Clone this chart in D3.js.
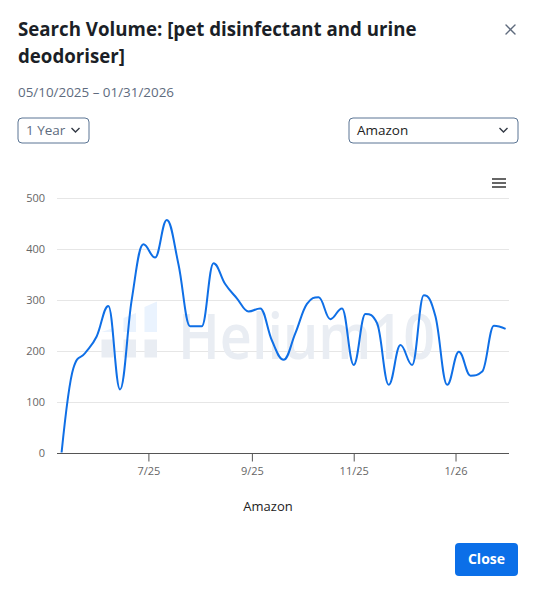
<!DOCTYPE html>
<html><head><meta charset="utf-8">
<script src="https://cdn.jsdelivr.net/npm/d3@7"></script>
<style>
body{margin:0;background:#fff;}
svg{display:block;font-family:'Open Sans',sans-serif;}
</style>
</head><body>
<svg id="c" width="537" height="595"></svg>
<script>
// ---------- data ----------
const titleLines = ["Search Volume: [pet disinfectant and urine", "deodoriser]"];
const dateRangeLabel = "05/10/2025 \u2013 01/31/2026";
const periodLabel = "1 Year";
const marketLabel = "Amazon";
const seriesName = "Amazon";
const closeLabel = "Close";
const dates = ["2025-05-10","2025-05-17","2025-05-24","2025-05-31","2025-06-07","2025-06-14","2025-06-21","2025-06-28",
  "2025-07-05","2025-07-12","2025-07-19","2025-07-26","2025-08-02","2025-08-09","2025-08-16","2025-08-23","2025-08-30",
  "2025-09-06","2025-09-13","2025-09-20","2025-09-27","2025-10-04","2025-10-11","2025-10-18","2025-10-25",
  "2025-11-01","2025-11-08","2025-11-15","2025-11-22","2025-11-29","2025-12-06","2025-12-13","2025-12-20","2025-12-27",
  "2026-01-03","2026-01-10","2026-01-17","2026-01-24","2026-01-31"];
const volumes = [0,165,195,228,288,124,300,409,383,457,370,248,248,372,331,303,277,283,220,182,234,292,305,262,283,172,272,254,133,211,172,309,267,133,198,151,159,249,243];
const yTicks = [0,100,200,300,400,500];
const xTickDates = ["2025-07-01","2025-09-01","2025-11-01","2026-01-01"];
const xTickLabels = ["7/25","9/25","11/25","1/26"];
const watermarkText = "Helium10";

// ---------- drawing ----------
const svg = d3.select("#c");
const parse = d3.utcParse("%Y-%m-%d");
const data = dates.map((d,i)=>({date:parse(d), v:volumes[i]}));

function fitText(sel, target){
  const w = sel.node().getComputedTextLength();
  const fs = parseFloat(sel.attr("font-size"));
  sel.attr("font-size", (fs*target/w).toFixed(2));
}

// Title
const t1 = svg.append("text").attr("x",18).attr("y",36).attr("font-size",20).attr("font-weight",700)
  .attr("fill","#1b1f27").text(titleLines[0]);
fitText(t1, 399);
const fsT = t1.attr("font-size");
svg.append("text").attr("x",18).attr("y",63).attr("font-size",fsT).attr("font-weight",700)
  .attr("fill","#1b1f27").text(titleLines[1]);

// close x
svg.append("g").attr("stroke","#5f6b7d").attr("stroke-width",1.4).attr("stroke-linecap","round")
  .selectAll("line").data([[506,25,515,34],[515,25,506,34]]).join("line")
  .attr("x1",d=>d[0]).attr("y1",d=>d[1]).attr("x2",d=>d[2]).attr("y2",d=>d[3]);

// date range
const dt = svg.append("text").attr("x",18).attr("y",97).attr("font-size",14).attr("fill","#5e6b7e").text(dateRangeLabel);
fitText(dt, 156);

// dropdowns
function dropdown(x,y,w,h,label,color,chevX){
  svg.append("rect").attr("x",x+0.5).attr("y",y+0.5).attr("width",w).attr("height",h).attr("rx",4)
    .attr("fill","#fff").attr("stroke","#5b7594").attr("stroke-width",1);
  svg.append("text").attr("x",x+8.5).attr("y",y+17).attr("font-size",13.5).attr("fill",color).text(label);
  svg.append("path").attr("d",`M${chevX-4},${y+10.5} L${chevX},${y+14.5} L${chevX+4},${y+10.5}`)
    .attr("fill","none").attr("stroke","#333a45").attr("stroke-width",1.4);
}
dropdown(17.5,117.5,71,25,periodLabel,"#5e6b7e",75.5);
dropdown(348.5,117.5,169,25,marketLabel,"#222",503.5);

// scales
const x = d3.scaleUtc().domain([data[0].date, data[data.length-1].date]).range([61.6,505.6]);
const y = d3.scaleLinear().domain([0,500]).range([452.5,198]);
const plotL = 57, plotR = 509;

// gridlines
svg.append("g").selectAll("line").data(yTicks.filter(d=>d>0)).join("line")
  .attr("x1",plotL).attr("x2",plotR).attr("y1",d=>Math.round(y(d))+0.5).attr("y2",d=>Math.round(y(d))+0.5)
  .attr("stroke","#e6e6e6").attr("stroke-width",1);

// watermark
const wm = svg.append("g");
const wmGray = "#e9edf3", wmBlue = "#eaf3fe";
[[101.5,113.5],[123.5,136],[144.5,157]].forEach(([a,b])=>{
  wm.append("rect").attr("x",a).attr("y",339.5).attr("width",b-a).attr("height",18).attr("fill",wmGray);
});
wm.append("path").attr("d","M101.5,332 L113.5,328 L113.5,332 Z").attr("fill",wmBlue);
wm.append("path").attr("d","M123.5,332 L123.5,318 L136,313 L136,332 Z").attr("fill",wmBlue);
wm.append("path").attr("d","M144.5,332 L144.5,307 L157,301.5 L157,332 Z").attr("fill",wmBlue);
wm.append("text").attr("x",178).attr("y",358.5).attr("font-size",63).attr("font-weight",600)
  .attr("fill",wmGray).attr("textLength",257).attr("lengthAdjust","spacingAndGlyphs").text(watermarkText);

// y axis labels
const yAxis = svg.append("g").attr("transform",`translate(${plotL},0)`)
  .call(d3.axisLeft(y).tickValues(yTicks).tickSize(0).tickPadding(12));
yAxis.select(".domain").remove();
yAxis.selectAll("text").attr("font-size",11).attr("fill","#666").attr("font-family","'Open Sans',sans-serif");

// x axis
const xAxis = svg.append("g").attr("transform",`translate(0,${Math.round(y(0))+0.5})`)
  .call(d3.axisBottom(x).tickValues(xTickDates.map(parse)).tickFormat((d,i)=>xTickLabels[i])
    .tickSizeInner(8).tickSizeOuter(0).tickPadding(6));
xAxis.select(".domain").attr("d",`M${plotL},0H${plotR}`).attr("stroke","#555");
xAxis.selectAll(".tick line").attr("stroke","#555");
xAxis.selectAll("text").attr("font-size",11).attr("fill","#666").attr("font-family","'Open Sans',sans-serif");

// spline path (Highcharts-style smoothing) built from scaled points
function splinePath(pts){
  const sm = 1.5, den = sm + 1;
  const p = d3.path();
  const P = pts.map(d=>({X:x(d.date), Y:y(d.v)}));
  P.forEach((pt,i)=>{
    if(i===0){ p.moveTo(pt.X, pt.Y); return; }
    let lcx = pt.X, lcy = pt.Y;
    if(i < P.length-1){
      const a = P[i-1], b = P[i+1];
      lcx = (sm*pt.X + a.X)/den; lcy = (sm*pt.Y + a.Y)/den;
      let rcx = (sm*pt.X + b.X)/den, rcy = (sm*pt.Y + b.Y)/den;
      const corr = ((rcy-lcy)*(rcx-pt.X))/(rcx-lcx) + pt.Y - rcy;
      lcy += corr; rcy += corr;
      if(lcy > a.Y && lcy > pt.Y){ lcy = Math.max(a.Y,pt.Y); rcy = 2*pt.Y - lcy; }
      else if(lcy < a.Y && lcy < pt.Y){ lcy = Math.min(a.Y,pt.Y); rcy = 2*pt.Y - lcy; }
      if(rcy > b.Y && rcy > pt.Y){ rcy = Math.max(b.Y,pt.Y); lcy = 2*pt.Y - rcy; }
      else if(rcy < b.Y && rcy < pt.Y){ rcy = Math.min(b.Y,pt.Y); lcy = 2*pt.Y - rcy; }
      pt.rcx = rcx; pt.rcy = rcy;
    }
    const prev = P[i-1];
    p.bezierCurveTo(prev.rcx ?? prev.X, prev.rcy ?? prev.Y, lcx, lcy, pt.X, pt.Y);
  });
  return p.toString();
}
svg.append("path").attr("d",splinePath(data)).attr("fill","none").attr("stroke","#0f6fe6")
  .attr("stroke-width",2).attr("stroke-linejoin","round");

// menu icon
svg.append("g").attr("stroke","#666").attr("stroke-width",2)
  .selectAll("line").data([179,183,187]).join("line")
  .attr("x1",492).attr("x2",506).attr("y1",d=>d).attr("y2",d=>d);

// legend label
svg.append("text").attr("x",268).attr("y",511).attr("text-anchor","middle").attr("font-size",13)
  .attr("fill","#222").text(seriesName);

// close button
svg.append("rect").attr("x",455).attr("y",543).attr("width",63).attr("height",33).attr("rx",4).attr("fill","#0b6fe8");
svg.append("text").attr("x",486.5).attr("y",564).attr("text-anchor","middle").attr("font-size",14)
  .attr("font-weight",700).attr("fill","#fff").text(closeLabel);
</script>
</body></html>
